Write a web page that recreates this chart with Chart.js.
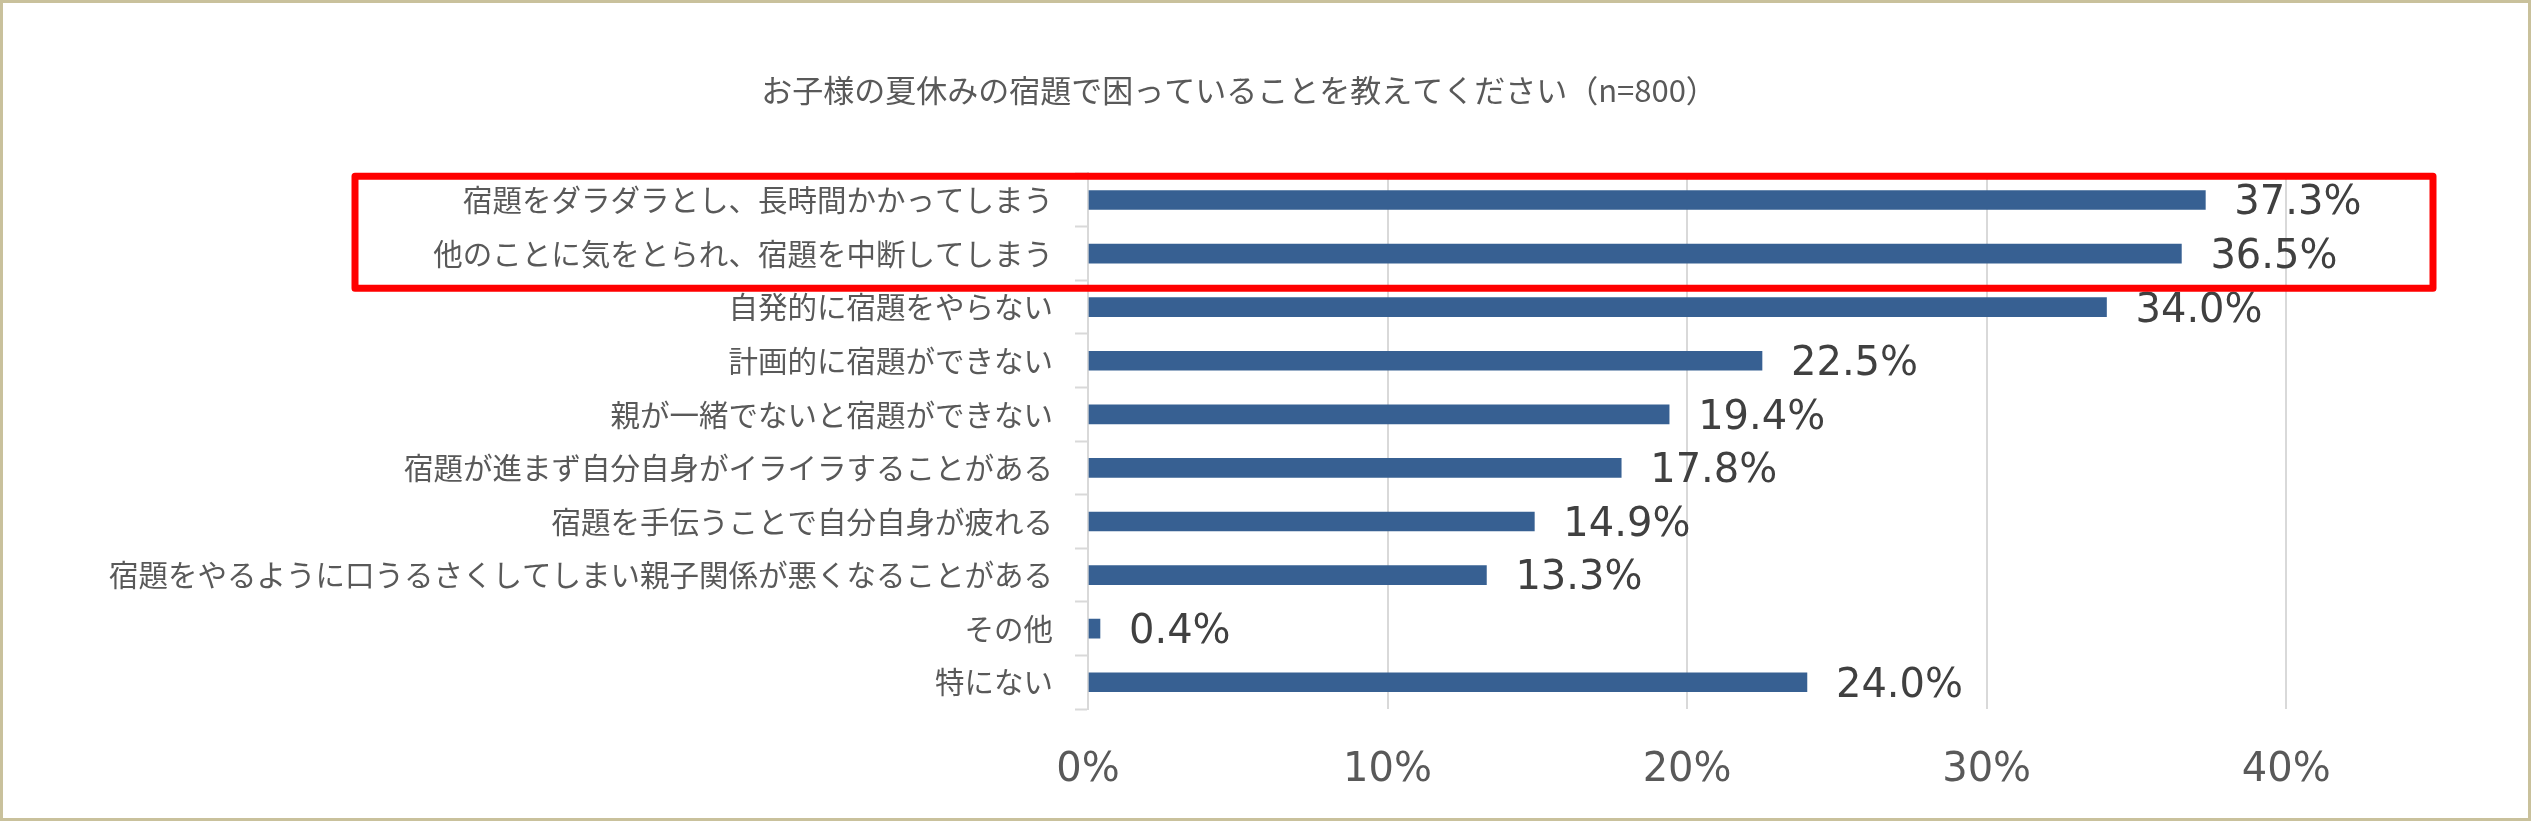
<!DOCTYPE html>
<html>
<head>
<meta charset="utf-8">
<script src="https://cdn.jsdelivr.net/npm/chart.js@4"></script>
<style>
  html, body { margin: 0; padding: 0; background: #fff; }
  #wrap { position: absolute; left: 0; top: 0; width: 2531px; height: 821px; box-sizing: border-box; border: 3px solid #C9C19C; }
  #chart { display: block; }
</style>
</head>
<body>
<div id="wrap"><canvas id="chart" width="2525" height="815"></canvas></div>
<script>
// chart title
var titleText = "お子様の夏休みの宿題で困っていることを教えてください（n=800）";

// categories top to bottom
var labels = [
  "宿題をダラダラとし、長時間かかってしまう",
  "他のことに気をとられ、宿題を中断してしまう",
  "自発的に宿題をやらない",
  "計画的に宿題ができない",
  "親が一緒でないと宿題ができない",
  "宿題が進まず自分自身がイライラすることがある",
  "宿題を手伝うことで自分自身が疲れる",
  "宿題をやるように口うるさくしてしまい親子関係が悪くなることがある",
  "その他",
  "特にない"
];

// percent of respondents
var values = [37.3, 36.5, 34.0, 22.5, 19.4, 17.8, 14.9, 13.3, 0.4, 24.0];

// x axis ticks (percent)
var xTicks = [0, 10, 20, 30, 40];
var xMax = 45;

// rows inside the red box
var highlightRows = [0, 1];

var jpFont = "'Noto Sans CJK JP', 'Noto Sans', sans-serif";
var numFont = "'DejaVu Sans', Verdana, sans-serif";

//draw the value next to each bar
var valueLabels = {
  id: "valueLabels",
  afterDatasetsDraw: function (chart) {
    var ctx = chart.ctx;
    var meta = chart.getDatasetMeta(0);
    ctx.save();
    ctx.font = "40px " + numFont;
    ctx.fillStyle = "#404040";
    ctx.textAlign = "left";
    ctx.textBaseline = "middle";
    meta.data.forEach(function (bar, i) {
      ctx.fillText(values[i].toFixed(1) + "%", bar.x + 29, bar.y + 4);
    });
    ctx.restore();
  }
};

//red frame round the highlighted rows
var highlightBox = {
  id: "highlightBox",
  afterDraw: function (chart) {
    var ctx = chart.ctx;
    var y = chart.scales.y;
    var area = chart.chartArea;
    var step = y.getPixelForValue(1) - y.getPixelForValue(0);
    var first = highlightRows[0];
    var last = highlightRows[highlightRows.length - 1];
    var top = y.getPixelForValue(first) - step / 2 + 3;
    var bottom = y.getPixelForValue(last) + step / 2 + 8;
    var left = area.left - 733;
    var right = area.right - 3;
    ctx.save();
    ctx.strokeStyle = "#FF0000";
    ctx.lineWidth = 7;
    ctx.lineJoin = "round";
    ctx.strokeRect(left, top, right - left, bottom - top);
    ctx.restore();
  }
};

var ctx = document.getElementById("chart").getContext("2d");
new Chart(ctx, {
  type: "bar",
  data: {
    labels: labels,
    datasets: [{
      data: values,
      backgroundColor: "#376092",
      borderWidth: 0,
      barThickness: 19
    }]
  },
  options: {
    indexAxis: "y",
    responsive: false,
    animation: false,
    layout: { padding: { left: 39, right: 92, top: 0, bottom: 0 } },
    plugins: {
      legend: { display: false },
      tooltip: { enabled: false },
      title: {
        display: true,
        text: titleText,
        color: "#595959",
        font: { family: jpFont, size: 31, weight: "normal", lineHeight: 1.2 },
        padding: { top: 69, bottom: 64 }
      }
    },
    scales: {
      x: {
        min: 0,
        max: xMax,
        afterBuildTicks: function (scale) {
          scale.ticks = xTicks.map(function (v) { return { value: v }; });
        },
        afterFit: function (scale) { scale.height = 109; },
        grid: { color: "#D9D9D9", lineWidth: 2, drawTicks: false },
        border: { display: false },
        ticks: {
          padding: 38,
          color: "#595959",
          font: { family: numFont, size: 40 },
          callback: function (v) { return v + "%"; }
        }
      },
      y: {
        afterFit: function (scale) { scale.width = 1046; },
        grid: {
          drawOnChartArea: false,
          drawTicks: true,
          tickLength: 13,
          tickColor: "#D9D9D9",
          tickWidth: 2
        },
        border: { display: true, color: "#D9D9D9", width: 2 },
        ticks: {
          padding: 22,
          color: "#595959",
          font: { family: jpFont, size: 29.5 }
        }
      }
    }
  },
  plugins: [valueLabels, highlightBox]
});
</script>
</body>
</html>
